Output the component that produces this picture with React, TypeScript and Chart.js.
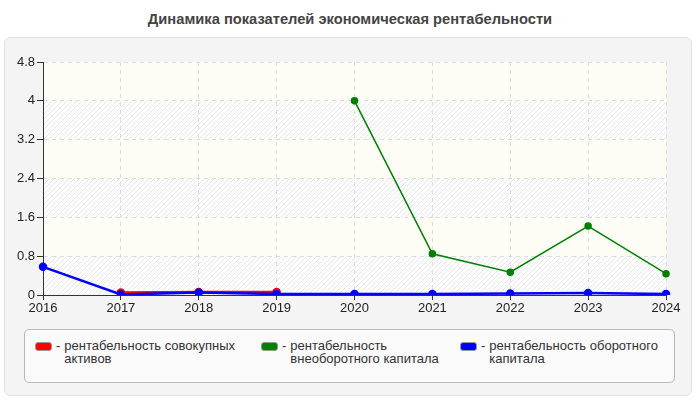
import React, { useEffect, useRef } from "react";
import Chart from "chart.js/auto";

const years = ["2016", "2017", "2018", "2019", "2020", "2021", "2022", "2023", "2024"];
const totalAssets = [null, 0.05, 0.06, 0.06, null, null, null, null, null];
const fixedCapital = [null, null, null, null, 4.0, 0.85, 0.47, 1.42, 0.44];
const workingCapital = [0.58, 0.01, 0.05, 0.02, 0.02, 0.02, 0.03, 0.04, 0.02];
const yTicks = [0, 0.8, 1.6, 2.4, 3.2, 4, 4.8];

const legendItems = [
    { color: "#ff0000", text: "рентабельность совокупных активов", left: 35, width: 185 },
    { color: "#008000", text: "рентабельность внеоборотного капитала", left: 261, width: 175 },
    { color: "#0000ff", text: "рентабельность оборотного капитала", left: 460, width: 185 },
];

const FONT = "Arial, 'Liberation Sans', sans-serif";

// alternating bands: plain cream and gray hatching
const bandsPlugin = {
    id: "bands",
    beforeDraw(chart) {
        const { ctx, chartArea, scales } = chart;
        const p = document.createElement("canvas");
        p.width = 5;
        p.height = 5;
        const pc = p.getContext("2d");
        pc.fillStyle = "#ffffff";
        pc.fillRect(0, 0, 5, 5);
        pc.strokeStyle = "#e6e6e6";
        pc.lineWidth = 1;
        pc.beginPath();
        pc.moveTo(0, 5);
        pc.lineTo(5, 0);
        pc.moveTo(-1, 1);
        pc.lineTo(1, -1);
        pc.moveTo(4, 6);
        pc.lineTo(6, 4);
        pc.stroke();
        const hatch = ctx.createPattern(p, "repeat");
        const w = chartArea.right - chartArea.left;
        ctx.save();
        for (let i = 0; i < yTicks.length - 1; i++) {
            const y1 = scales.y.getPixelForValue(yTicks[i]);
            const y2 = scales.y.getPixelForValue(yTicks[i + 1]);
            ctx.fillStyle = i % 2 === 0 ? hatch : "#fdfdf6";
            ctx.fillRect(chartArea.left, y2, w, y1 - y2);
        }
        ctx.restore();
    },
};

const App = () => {
    const chartRef = useRef(null);
    const chartInstance = useRef(null);

    useEffect(() => {
        if (chartInstance.current) {
            chartInstance.current.destroy();
        }
        const ctx = chartRef.current.getContext("2d");
        chartInstance.current = new Chart(ctx, {
            type: "line",
            data: {
                labels: years,
                datasets: [
                    {
                        label: "рентабельность совокупных активов",
                        data: totalAssets,
                        borderColor: "#ff0000",
                        backgroundColor: "#ff0000",
                        borderWidth: 2.5,
                        pointRadius: 3,
                        order: 3,
                    },
                    {
                        label: "рентабельность внеоборотного капитала",
                        data: fixedCapital,
                        borderColor: "#008000",
                        backgroundColor: "#008000",
                        borderWidth: 1.5,
                        pointRadius: 3,
                        order: 2,
                    },
                    {
                        label: "рентабельность оборотного капитала",
                        data: workingCapital,
                        borderColor: "#0000ff",
                        backgroundColor: "#0000ff",
                        borderWidth: 2.5,
                        pointRadius: 3,
                        order: 1,
                    },
                ],
            },
            options: {
                responsive: true,
                maintainAspectRatio: false,
                animation: false,
                layout: { padding: { left: 0, right: 34, top: 24, bottom: 0 } },
                plugins: {
                    legend: { display: false },
                    tooltip: { enabled: false },
                },
                scales: {
                    x: {
                        offset: false,
                        grid: { color: "#dddddd", tickColor: "#333", tickLength: 5 },
                        border: { color: "#333", dash: [4, 4] },
                        ticks: { color: "#222", font: { family: FONT, size: 13 }, padding: 1, maxRotation: 0 },
                        afterFit: (scale) => { scale.height = 33; },
                    },
                    y: {
                        min: 0,
                        max: 4.8,
                        afterBuildTicks: (scale) => { scale.ticks = yTicks.map((v) => ({ value: v })); },
                        grid: { color: "#dddddd", tickColor: "#333", tickLength: 6 },
                        border: { color: "#333", dash: [4, 4] },
                        ticks: {
                            color: "#222",
                            font: { family: FONT, size: 13 },
                            padding: 2,
                            callback: (v) => String(Math.round(Number(v) * 10) / 10),
                        },
                        afterFit: (scale) => { scale.width = 43; },
                    },
                },
            },
            plugins: [bandsPlugin],
        });
        return () => {
            if (chartInstance.current) {
                chartInstance.current.destroy();
                chartInstance.current = null;
            }
        };
    }, []);

    return (
        <div style={{ position: "fixed", left: 0, top: 0, width: 700, height: 400, background: "#fff", fontFamily: FONT }}>
            <div style={{ position: "absolute", left: 0, top: 0, width: 700, height: 37, lineHeight: "38px", textAlign: "center", fontWeight: "bold", fontSize: 14.7, color: "#444" }}>
                Динамика показателей экономическая рентабельности
            </div>
            <div style={{ position: "absolute", left: 4, top: 37, width: 686, height: 357, background: "#f4f4f4", border: "1px solid #e2e2e2", borderRadius: 6 }} />
            <div style={{ position: "absolute", left: 0, top: 38, width: 700, height: 290 }}>
                <canvas ref={chartRef} />
            </div>
            <div style={{ position: "absolute", left: 24, top: 329, width: 649, height: 52, background: "#fafafa", border: "1px solid #b8b8b8", borderRadius: 5 }} />
            {legendItems.map((it) => (
                <div key={it.text} style={{ position: "absolute", left: it.left, top: 339, display: "flex", alignItems: "flex-start" }}>
                    <div style={{ width: 15, height: 7, marginTop: 3, background: it.color, border: "1px solid #999", borderRadius: 3 }} />
                    <div style={{ fontSize: 13, color: "#333", marginLeft: 4, marginRight: 4, lineHeight: "13px" }}>-</div>
                    <div style={{ fontSize: 13, color: "#333", lineHeight: "13px", width: it.width }}>{it.text}</div>
                </div>
            ))}
        </div>
    );
};

export default App;
